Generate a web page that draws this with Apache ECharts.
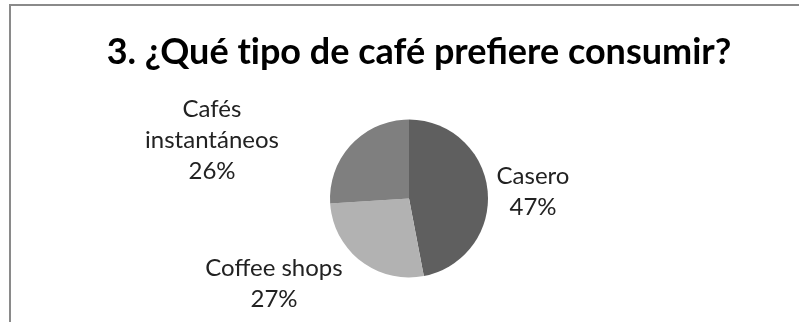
<!DOCTYPE html>
<html>
<head>
<meta charset="utf-8">
<script src="https://cdn.jsdelivr.net/npm/echarts@6/dist/echarts.min.js"></script>
<style>
  html, body { margin: 0; padding: 0; background: #fff; }
  #chart { width: 799px; height: 322px; }
</style>
</head>
<body>
<div id="chart"></div>
<script>
// Survey answers: preferred kind of coffee
// (U+200C keeps "t" and "i" from fusing into a ligature)
const titleText = '3. ¿Qué t\u200Cipo de café prefiere consumir?';
const categories = ['Casero', 'Coffee shops', 'Cafés\ninstantáneos'];
const shares = [47, 27, 26];
const sliceColors = ['#5f5f5f', '#b2b2b2', '#7f7f7f'];

// Label anchor points (centre of each text block)
const labelAnchors = [[533, 192], [274, 284], [212, 140]];

const chart = echarts.init(document.getElementById('chart'), null, { renderer: 'canvas' });

chart.setOption({
  animation: false,
  backgroundColor: '#ffffff',
  title: {
    text: titleText,
    left: 414,
    top: 29,
    textAlign: 'center',
    textStyle: {
      fontFamily: 'Lato',
      fontWeight: 'bold',
      fontSize: 36,
      color: '#000000'
    }
  },
  graphic: [{
    type: 'rect',
    shape: { x: 10, y: 5, width: 900, height: 400 },
    style: { fill: 'none', stroke: '#8a8a8a', lineWidth: 2 },
    silent: true
  }],
  series: [{
    type: 'pie',
    center: [409, 198.5],
    radius: 79,
    startAngle: 90,
    clockwise: true,
    data: categories.map((name, i) => ({
      name: name,
      value: shares[i],
      itemStyle: { color: sliceColors[i] }
    })),
    itemStyle: { borderWidth: 0 },
    label: {
      show: true,
      position: 'outside',
      formatter: '{b}\n{c}%',
      fontFamily: 'Lato',
      fontSize: 24,
      lineHeight: 31,
      color: '#222222',
      align: 'center'
    },
    labelLine: { show: false },
    labelLayout: function (params) {
      const p = labelAnchors[params.dataIndex];
      return { x: p[0], y: p[1], align: 'center', verticalAlign: 'middle' };
    }
  }]
});
</script>
</body>
</html>
